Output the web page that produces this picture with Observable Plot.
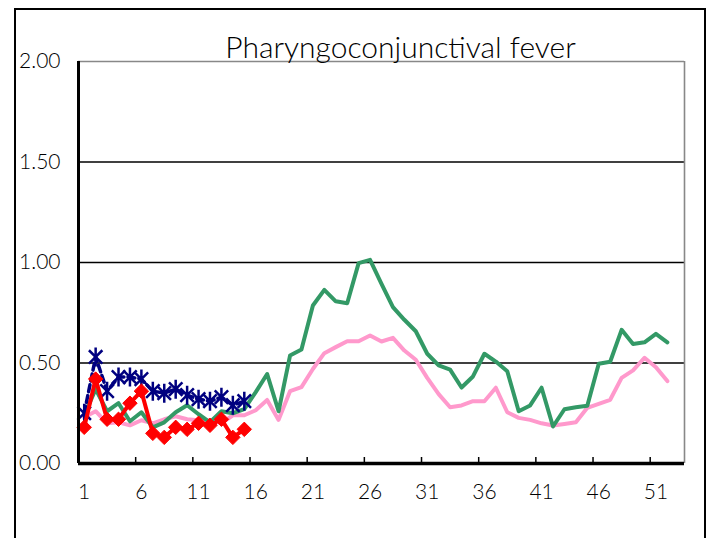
<!DOCTYPE html>
<html>
<head>
<meta charset="utf-8">
<script src="https://cdn.jsdelivr.net/npm/d3@7"></script>
<script src="https://cdn.jsdelivr.net/npm/@observablehq/plot@0.6"></script>
<style>
  html, body { margin: 0; padding: 0; background: #fff; width: 718px; height: 538px; overflow: hidden; }
  #wrap { position: relative; width: 718px; height: 538px; }
  #border { position: absolute; left: 14px; top: 8px; width: 692px; height: 600px; border: 2px solid #000; box-sizing: border-box; }
  #chart { position: absolute; left: 0; top: 0; }
</style>
</head>
<body>
<div id="wrap"><div id="border"></div><div id="chart"></div></div>
<script>
const titleText = "Pharyngoconjunctival fever";
const yTicks = [0, 0.5, 1, 1.5, 2];
const gridValues = [0.5, 1, 1.5];
const xLabels = [1, 6, 11, 16, 21, 26, 31, 36, 41, 46, 51];
const xTickMarks = [5.5, 10.5, 15.5, 20.5, 25.5, 30.5, 35.5, 40.5, 45.5, 50.5];

const weeksAll = d3.range(1, 53);
const weeksCur = d3.range(1, 16);

const greenValues = [0.24, 0.37, 0.26, 0.30, 0.21, 0.255, 0.18, 0.205, 0.255, 0.29,
  0.245, 0.205, 0.26, 0.25, 0.27, 0.355, 0.445, 0.26, 0.537, 0.567,
  0.786, 0.864, 0.807, 0.797, 0.997, 1.013, 0.894, 0.778, 0.715, 0.658,
  0.546, 0.488, 0.467, 0.378, 0.433, 0.546, 0.507, 0.459, 0.26, 0.289,
  0.377, 0.184, 0.27, 0.28, 0.287, 0.496, 0.506, 0.665, 0.595, 0.603,
  0.645, 0.603];
const pinkValues = [0.23, 0.26, 0.20, 0.205, 0.19, 0.215, 0.20, 0.22, 0.235, 0.22,
  0.215, 0.215, 0.20, 0.24, 0.24, 0.265, 0.316, 0.217, 0.36, 0.38,
  0.47, 0.549, 0.579, 0.608, 0.608, 0.637, 0.607, 0.625, 0.562, 0.516,
  0.426, 0.345, 0.28, 0.289, 0.31, 0.31, 0.377, 0.255, 0.227, 0.217,
  0.20, 0.189, 0.197, 0.205, 0.277, 0.297, 0.317, 0.426, 0.463, 0.526,
  0.479, 0.41];
const navyValues = [0.25, 0.53, 0.36, 0.43, 0.43, 0.42, 0.36, 0.35, 0.37, 0.34,
  0.32, 0.31, 0.33, 0.29, 0.31];
const redValues = [0.18, 0.42, 0.22, 0.22, 0.30, 0.36, 0.15, 0.13, 0.18, 0.17,
  0.20, 0.19, 0.22, 0.13, 0.17];

const green = weeksAll.map((w, i) => ({w, v: greenValues[i]}));
const pink = weeksAll.map((w, i) => ({w, v: pinkValues[i]}));
const navy = weeksCur.map((w, i) => ({w, v: navyValues[i]}));
const red = weeksCur.map((w, i) => ({w, v: redValues[i]}));

// Excel-style star marker: X plus a vertical stroke
const starSymbol = {
  draw(ctx, size) {
    const r = Math.sqrt(size / Math.PI);
    const d = r * Math.SQRT1_2;
    ctx.moveTo(0, -r); ctx.lineTo(0, r);
    ctx.moveTo(-d, -d); ctx.lineTo(d, d);
    ctx.moveTo(-d, d); ctx.lineTo(d, -d);
  }
};

const font = "Lato, 'Liberation Sans', Arial, sans-serif";

const chart = Plot.plot({
  width: 718,
  height: 538,
  marginLeft: 78,
  marginRight: 34,
  marginTop: 61,
  marginBottom: 75,
  x: {domain: [0.5, 53.5], label: null},
  y: {domain: [0, 2], label: null},
  style: {fontFamily: font, fontSize: "20px", fontWeight: 300, background: "transparent", color: "#000", overflow: "visible"},
  marks: [
    Plot.ruleY(gridValues, {stroke: "#000", strokeWidth: 1.6}),
    Plot.ruleY([2], {stroke: "#888", strokeWidth: 1.6}),
    Plot.ruleX([53.5], {y1: 0, y2: 2, stroke: "#888", strokeWidth: 1.6}),
    Plot.ruleX(xTickMarks, {y1: 0, y2: 0.03, stroke: "#000", strokeWidth: 1.5}),
    Plot.line(pink, {x: "w", y: "v", stroke: "#FF99CC", strokeWidth: 4, strokeLinejoin: "round"}),
    Plot.line(green, {x: "w", y: "v", stroke: "#339966", strokeWidth: 4, strokeLinejoin: "round"}),
    Plot.line(navy, {x: "w", y: "v", stroke: "#000080", strokeWidth: 3.5, strokeDasharray: "7,4"}),
    Plot.dot(navy, {x: "w", y: "v", symbol: starSymbol, r: 9.5, stroke: "#000080", strokeWidth: 2.5, fill: "none"}),
    Plot.line(red, {x: "w", y: "v", stroke: "#FF0000", strokeWidth: 4, strokeLinejoin: "round"}),
    Plot.dot(red, {x: "w", y: "v", symbol: "diamond2", r: 6.5, fill: "#FF0000", stroke: "#FF0000", strokeWidth: 1}),
    Plot.ruleX([0.5], {y1: 0, y2: 2, stroke: "#000", strokeWidth: 3}),
    Plot.ruleY([0], {stroke: "#000", strokeWidth: 3.5}),
    Plot.axisY(yTicks, {label: null, tickSize: 0, tickPadding: 18, tickFormat: d => d.toFixed(2), fontSize: 21, fill: "#000"}),
    Plot.axisX(xLabels, {label: null, tickSize: 0, tickPadding: 21, tickFormat: d => String(d), fontSize: 21, fill: "#000"}),
    Plot.text([titleText], {frameAnchor: "top", dx: 19, dy: -25, fontSize: 30, fontWeight: 300, fill: "#000"})
  ]
});
document.getElementById("chart").appendChild(chart);
</script>
</body>
</html>
